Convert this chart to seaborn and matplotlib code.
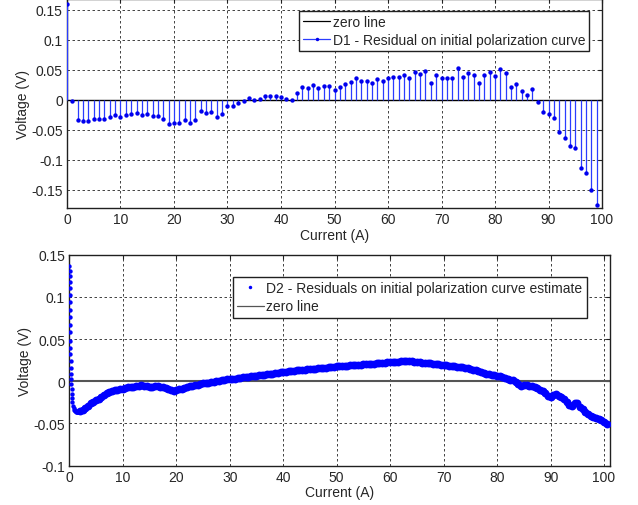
import numpy as np
import matplotlib
matplotlib.use("Agg")
import matplotlib.pyplot as plt
from matplotlib.lines import Line2D
import seaborn as sns
import pandas as pd

# ---------------- data ----------------
d1_current = list(range(0, 100))
d1_resid = [0.160, -0.002, -0.033, -0.035, -0.035, -0.032, -0.032, -0.031, -0.028, -0.026,
            -0.028, -0.026, -0.023, -0.022, -0.026, -0.024, -0.027, -0.027, -0.032, -0.040,
            -0.038, -0.038, -0.034, -0.038, -0.033, -0.019, -0.022, -0.021, -0.029, -0.024,
            -0.011, -0.010, -0.006, -0.002, 0.003, -0.001, 0.001, 0.007, 0.006, 0.006,
            0.005, 0.001, -0.001, 0.011, 0.021, 0.020, 0.024, 0.019, 0.023, 0.023,
            0.017, 0.022, 0.027, 0.029, 0.037, 0.032, 0.031, 0.028, 0.034, 0.032,
            0.036, 0.038, 0.038, 0.042, 0.037, 0.046, 0.043, 0.048, 0.028, 0.041,
            0.036, 0.037, 0.037, 0.053, 0.038, 0.044, 0.042, 0.028, 0.041, 0.047,
            0.039, 0.051, 0.044, 0.022, 0.027, 0.014, 0.008, 0.018, -0.003, -0.021,
            -0.023, -0.030, -0.053, -0.063, -0.077, -0.080, -0.113, -0.122, -0.150, -0.175]

# initial spike of D2 (near 0 A)
d2_spike_current = [0.02, 0.04, 0.06, 0.08, 0.10, 0.11, 0.12, 0.13, 0.14, 0.15,
                    0.16, 0.18, 0.20, 0.22, 0.25, 0.28, 0.32, 0.36, 0.40, 0.45,
                    0.50, 0.55, 0.60, 0.70, 0.80, 0.90, 1.00, 1.10, 1.20, 1.30,
                    1.40, 1.50, 1.60, 1.70, 1.80, 1.90]
d2_spike_voltage = [0.136, 0.131, 0.125, 0.118, 0.110, 0.102, 0.094, 0.085, 0.076, 0.067,
                    0.058, 0.048, 0.040, 0.032, 0.024, 0.016, 0.009, 0.003, -0.003, -0.009,
                    -0.015, -0.020, -0.024, -0.029, -0.032, -0.034, -0.0345, -0.035, -0.036, -0.0355,
                    -0.036, -0.0365, -0.036, -0.0355, -0.036, -0.0352]

# D2 residuals sampled every 0.5 A starting at 2.0 A
d2_start, d2_step = 2.0, 0.5
d2_voltage = [
    -0.0355, -0.0345, -0.0315, -0.0290, -0.0262, -0.0245, -0.0222, -0.0205, -0.0182, -0.0165,
    -0.0142, -0.0130, -0.0118, -0.0105, -0.0102, -0.0092, -0.0086, -0.0078, -0.0072, -0.0070,
    -0.0068, -0.0060, -0.0056, -0.0048, -0.0052, -0.0060, -0.0066, -0.0062, -0.0058, -0.0055,
    -0.0062, -0.0068, -0.0078, -0.0095, -0.0106, -0.0112, -0.0108, -0.0095, -0.0090, -0.0085,
    -0.0072, -0.0060, -0.0052, -0.0046, -0.0040, -0.0032, -0.0026, -0.0020, -0.0016, -0.0010,
    -0.0006, 0.0000, 0.0006, 0.0010, 0.0016, 0.0022, 0.0026, 0.0028, 0.0032, 0.0038,
    0.0042, 0.0046, 0.0050, 0.0052, 0.0057, 0.0062, 0.0066, 0.0070, 0.0076, 0.0078,
    0.0082, 0.0088, 0.0090, 0.0096, 0.0100, 0.0106, 0.0110, 0.0112, 0.0116, 0.0118,
    0.0122, 0.0128, 0.0130, 0.0134, 0.0136, 0.0140, 0.0142, 0.0148, 0.0150, 0.0154,
    0.0156, 0.0160, 0.0162, 0.0168, 0.0170, 0.0172, 0.0176, 0.0178, 0.0180, 0.0184,
    0.0186, 0.0190, 0.0192, 0.0194, 0.0196, 0.0198, 0.0200, 0.0204, 0.0206, 0.0208,
    0.0210, 0.0214, 0.0216, 0.0220, 0.0222, 0.0224, 0.0226, 0.0228, 0.0230, 0.0234,
    0.0236, 0.0240, 0.0244, 0.0238, 0.0236, 0.0230, 0.0226, 0.0224, 0.0220, 0.0218,
    0.0216, 0.0214, 0.0210, 0.0206, 0.0202, 0.0198, 0.0195, 0.0190, 0.0186, 0.0180,
    0.0176, 0.0174, 0.0170, 0.0166, 0.0160, 0.0152, 0.0145, 0.0138, 0.0130, 0.0118,
    0.0106, 0.0098, 0.0092, 0.0086, 0.0080, 0.0072, 0.0066, 0.0058, 0.0050, 0.0042,
    0.0030, 0.0020, 0.0010, -0.0010, -0.0030, -0.0050, -0.0048, -0.0045, -0.0050, -0.0058,
    -0.0068, -0.0082, -0.0098, -0.0115, -0.0138, -0.0175, -0.0190, -0.0160, -0.0155, -0.0172,
    -0.0190, -0.0210, -0.0240, -0.0280, -0.0292, -0.0255, -0.0262, -0.0300, -0.0330, -0.0360,
    -0.0390, -0.0410, -0.0428, -0.0438, -0.0445, -0.0455, -0.0480, -0.0505]
d2_current = [d2_start + d2_step * i for i in range(len(d2_voltage))]

top_xticks = list(range(0, 101, 10))
top_yticks = [-0.15, -0.1, -0.05, 0, 0.05, 0.1, 0.15]
top_yticklabels = ["-0.15", "-0.1", "-0.05", "0", "0.05", "0.1", "0.15"]
bot_yticks = [-0.1, -0.05, 0, 0.05, 0.1, 0.15]
bot_yticklabels = ["-0.1", "-0.05", "0", "0.05", "0.1", "0.15"]

label_d1 = "D1 - Residual on initial polarization curve"
label_d2 = "D2 - Residuals on initial polarization curve estimate"

FS = 10
TXT = '#262626'

# ---------------- style ----------------
sns.set_style("white")
plt.rcParams['font.family'] = ['Liberation Sans', 'DejaVu Sans']
plt.rcParams['font.size'] = FS
plt.rcParams['xtick.direction'] = 'in'
plt.rcParams['ytick.direction'] = 'in'

fig = plt.figure(figsize=(6.38, 5.06), dpi=100)
ax1 = fig.add_axes([0.105, 0.587, 0.8386, 0.413])
ax2 = fig.add_axes([0.1086, 0.0777, 0.8474, 0.417])

def style_axes(ax):
    ax.grid(True, color='#222222', linestyle=(0, (3, 3)), linewidth=0.6)
    ax.set_axisbelow(True)
    for s in ax.spines.values():
        s.set_color('#202020')
        s.set_linewidth(1.0)
    ax.tick_params(axis='both', which='both', direction='in', length=3,
                   color='#202020', labelsize=FS, labelcolor=TXT,
                   top=True, right=True, pad=3)

# ---------------- top: stem plot ----------------
df1 = pd.DataFrame({"current": d1_current, "resid": d1_resid})
ax1.axhline(0, color='black', linewidth=1.0, zorder=2)
ax1.vlines(df1["current"], 0, df1["resid"], color='#2a3cff', linewidth=0.9, zorder=3)
sns.scatterplot(data=df1, x="current", y="resid", ax=ax1, color='#0000ee',
                s=10, linewidth=0, zorder=4, legend=False)
ax1.set_xlim(0, 100)
ax1.set_ylim(-0.18, 0.168)
ax1.set_xticks(top_xticks)
ax1.set_yticks(top_yticks)
ax1.set_yticklabels(top_yticklabels)
style_axes(ax1)
ax1.set_xlabel("Current (A)", fontsize=FS, color=TXT, labelpad=1)
ax1.set_ylabel("Voltage (V)", fontsize=FS, color=TXT, labelpad=1)
h1 = [Line2D([], [], color='black', linewidth=0.9),
      Line2D([], [], color='#2a3cff', linewidth=0.9, marker='o', markersize=2.5,
             markerfacecolor='#0000ee', markeredgewidth=0)]
leg1 = ax1.legend(h1, ["zero line", label_d1], loc='upper right',
                  bbox_to_anchor=(0.976, 0.943), borderaxespad=0, fontsize=FS,
                  frameon=True, fancybox=False, edgecolor='#202020',
                  handlelength=1.9, handletextpad=0.2, labelspacing=0.3,
                  borderpad=0.3, framealpha=1)
leg1.get_frame().set_linewidth(1.0)
for t in leg1.get_texts():
    t.set_color(TXT)

# ---------------- bottom: scatter ----------------
df_spike = pd.DataFrame({"current": d2_spike_current, "voltage": d2_spike_voltage})
df2 = pd.DataFrame({"current": d2_current, "voltage": d2_voltage})
ax2.axhline(0, color='#555555', linewidth=1.5, zorder=2)
sns.scatterplot(data=df_spike, x="current", y="voltage", ax=ax2, color='#0000ff',
                s=10, linewidth=0, zorder=4, legend=False)
sns.scatterplot(data=df2, x="current", y="voltage", ax=ax2, color='#0000ff',
                s=32, linewidth=0, zorder=4, legend=False)
ax2.set_xlim(0, 101.1)
ax2.set_ylim(-0.1, 0.15)
ax2.set_xticks(top_xticks)
ax2.set_yticks(bot_yticks)
ax2.set_yticklabels(bot_yticklabels)
style_axes(ax2)
ax2.set_xlabel("Current (A)", fontsize=FS, color=TXT, labelpad=1)
ax2.set_ylabel("Voltage (V)", fontsize=FS, color=TXT, labelpad=1)
h2 = [Line2D([], [], linestyle='none', marker='o', markersize=2.5,
             markerfacecolor='#0000ff', markeredgewidth=0),
      Line2D([], [], color='#555555', linewidth=0.9)]
leg2 = ax2.legend(h2, [label_d2, "zero line"], loc='upper right',
                  bbox_to_anchor=(0.957, 0.894), borderaxespad=0, fontsize=FS,
                  frameon=True, fancybox=False, edgecolor='#202020',
                  handlelength=1.9, handletextpad=0.2, labelspacing=0.3,
                  borderpad=0.3, framealpha=1)
leg2.get_frame().set_linewidth(1.0)
for t in leg2.get_texts():
    t.set_color(TXT)

fig.savefig("out.png", dpi=100)
